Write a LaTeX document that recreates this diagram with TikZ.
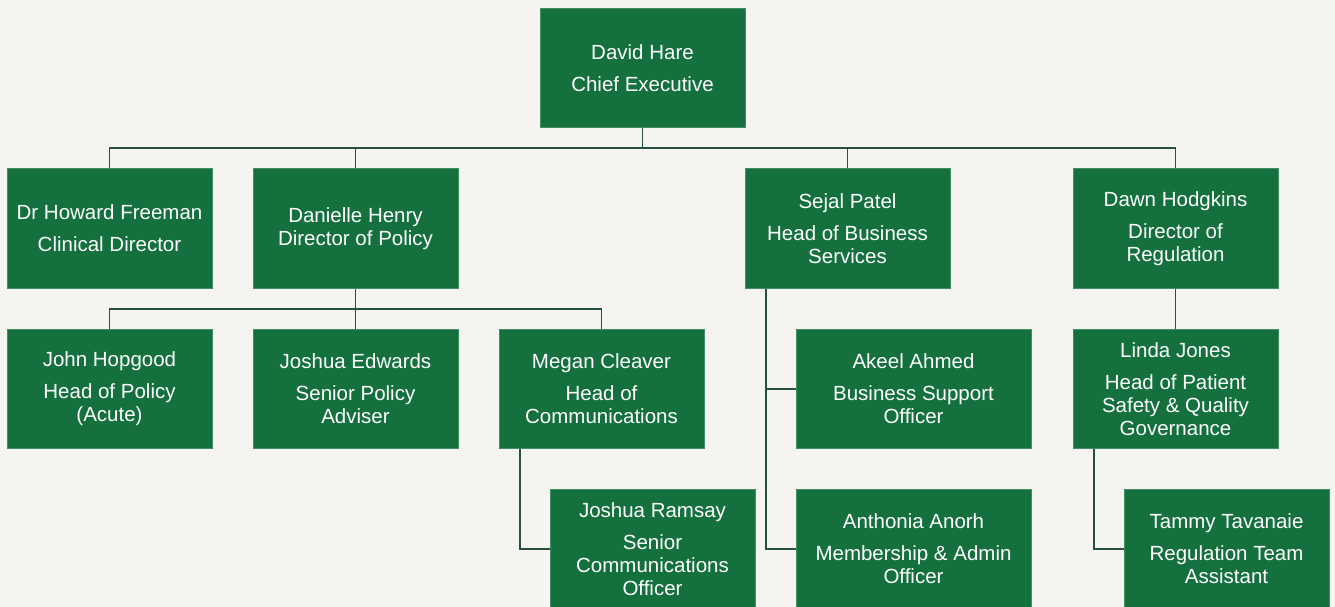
\documentclass[tikz,border=0pt]{standalone}
\usepackage{fontspec}
\setmainfont{Liberation Sans}
\definecolor{bg}{HTML}{F5F4F0}
\definecolor{boxgreen}{HTML}{14713E}
\definecolor{linecol}{HTML}{24533A}
\begin{document}
\begin{tikzpicture}[x=1pt,y=-1pt,
  person/.style={rectangle, fill=boxgreen, draw=boxgreen!80!white, line width=0.6pt,
    text=white, inner sep=0pt, minimum width=205pt, minimum height=119pt,
    align=center, font=\fontsize{20.5}{23}\selectfont},
  wide/.style={minimum width=235pt},
  link/.style={draw=linecol, line width=1.8pt}]
\useasboundingbox (0,0) rectangle (1335,607);
\fill[bg] (0,0) rectangle (1335,607);

\node[person] (ceo) at (642.5,68) {David Hare\\[9pt]Chief Executive};
\node[person, minimum height=120pt] (freeman) at (109.5,228.5) {Dr Howard Freeman\\[9pt]Clinical Director};
\node[person, minimum height=120pt] (danielle) at (355.5,228.5) {Danielle Henry\\Director of Policy};
\node[person, minimum height=120pt] (sejal) at (847.5,228.5) {Sejal Patel\\[9pt]Head of Business\\Services};
\node[person, minimum height=120pt] (dawn) at (1175.5,228.5) {Dawn Hodgkins\\[9pt]Director of\\Regulation};

\node[person] (hopgood) at (109.5,389) {John Hopgood\\[9pt]Head of Policy\\(Acute)};
\node[person] (edwards) at (355.5,389) {Joshua Edwards\\[9pt]Senior Policy\\Adviser};
\node[person] (cleaver) at (601.5,389) {Megan Cleaver\\[9pt]Head of\\Communications};
\node[person, wide] (akeel) at (913.5,389) {Akeel Ahmed\\[9pt]Business Support\\Officer};
\node[person] (linda) at (1175.5,389) {Linda Jones\\[9pt]Head of Patient\\Safety \& Quality\\Governance};

\node[person] (ramsay) at (652.5,549) {Joshua Ramsay\\[9pt]Senior\\Communications\\Officer};
\node[person, wide] (anthonia) at (913.5,549) {Anthonia Anorh\\[9pt]Membership \& Admin\\Officer};
\node[person] (tammy) at (1226.5,549) {Tammy Tavanaie\\[9pt]Regulation Team\\Assistant};

% top level connectors
\draw[link] (ceo.south) -- ++(0,21);
\draw[link] (freeman.north) -- ++(0,-20) -| (dawn.north);
\draw[link] (danielle.north) -- ++(0,-20);
\draw[link] (sejal.north) -- ++(0,-20);

% policy team
\draw[link] (danielle.south) -- ++(0,21);
\draw[link] (hopgood.north) -- ++(0,-20) -| (cleaver.north);
\draw[link] (edwards.north) -- ++(0,-20);

% communications
\draw[link] ([xshift=21pt]cleaver.south west) |- (ramsay.west);

% business services
\draw[link] ([xshift=21pt]sejal.south west) |- (akeel.west);
\draw[link] ([xshift=21pt]sejal.south west) |- (anthonia.west);

% regulation
\draw[link] (dawn.south) -- (linda.north);
\draw[link] ([xshift=21pt]linda.south west) |- (tammy.west);
\end{tikzpicture}
\end{document}
